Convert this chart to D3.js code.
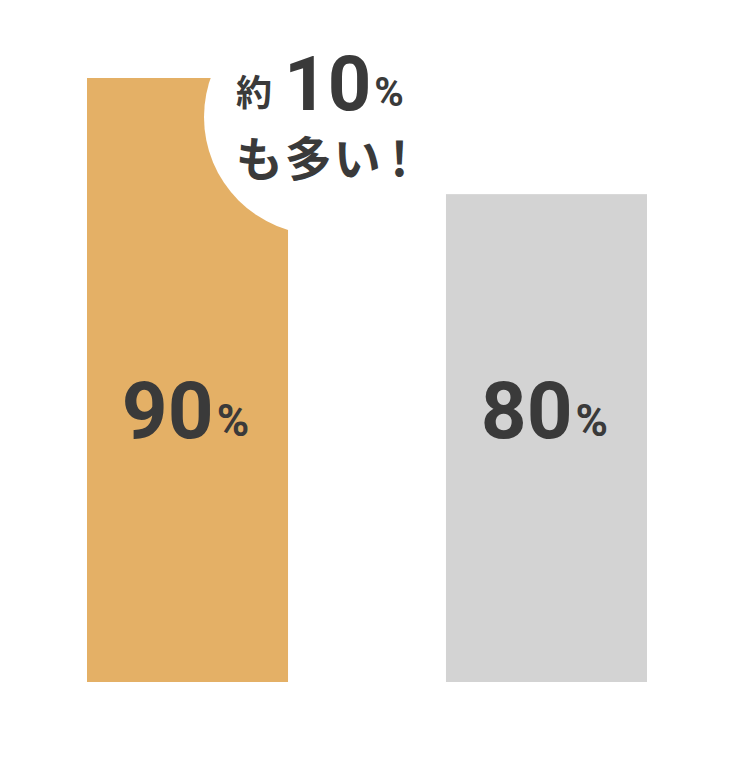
<!DOCTYPE html>
<html>
<head>
<meta charset="utf-8">
<script src="https://cdn.jsdelivr.net/npm/d3@7"></script>
<style>
  html, body { margin: 0; padding: 0; background: #fff; }
  svg { display: block; }
</style>
</head>
<body>
<svg width="739" height="762"></svg>
<script>
var categories = ["A", "B"];
var values = [90, 80];
var colors = ["#E4B066", "#D3D3D3"];
var calloutTop = ["約", "10", "%"];
var calloutBottom = ["も多い", "!"];

var svg = d3.select("svg");
var width = +svg.attr("width");
var height = +svg.attr("height");

var numFont = "Roboto, 'DejaVu Sans', sans-serif";
var jpFont = "'Noto Sans CJK JP', sans-serif";
var ink = "#3a3a3a";

var x = d3.scaleBand()
    .domain(categories)
    .range([87, 647])
    .paddingInner(0.44)
    .paddingOuter(0);

var y = d3.scaleLinear()
    .domain([38, 90])
    .range([682, 78]);

// bars
svg.append("g")
   .selectAll("rect")
   .data(values)
   .enter()
   .append("rect")
   .attr("x", function(d, i) { return x(categories[i]); })
   .attr("y", function(d) { return y(d); })
   .attr("width", x.bandwidth())
   .attr("height", function(d) { return y.range()[0] - y(d); })
   .attr("fill", function(d, i) { return colors[i]; });

// value labels
var labels = svg.append("g")
   .selectAll("text")
   .data(values)
   .enter()
   .append("text")
   .attr("x", function(d, i) { return x(categories[i]) + x.bandwidth() / 2 - 2; })
   .attr("y", 438)
   .attr("text-anchor", "middle")
   .attr("fill", ink)
   .attr("font-family", numFont)
   .attr("font-weight", "bold");
labels.append("tspan")
   .attr("font-size", 80)
   .text(function(d) { return d; });
labels.append("tspan")
   .attr("font-size", 44)
   .attr("dx", 3)
   .attr("dy", -2)
   .text("%");

// callout bubble
var cx = 322, cy = 117, r = 118;
svg.append("circle")
   .attr("cx", cx)
   .attr("cy", cy)
   .attr("r", r)
   .attr("fill", "#fff");

var topLine = svg.append("text")
   .attr("x", cx - 2)
   .attr("y", 110)
   .attr("text-anchor", "middle")
   .attr("fill", ink)
   .attr("font-weight", "bold");
topLine.append("tspan")
   .attr("font-family", jpFont)
   .attr("font-size", 36)
   .attr("dy", -4)
   .text(calloutTop[0]);
topLine.append("tspan")
   .attr("font-family", numFont)
   .attr("font-size", 76)
   .attr("dx", 12)
   .attr("dy", 4)
   .text(calloutTop[1]);
topLine.append("tspan")
   .attr("font-family", numFont)
   .attr("font-size", 40)
   .attr("dx", 3)
   .attr("dy", -4)
   .text(calloutTop[2]);

var bottomLine = svg.append("text")
   .attr("x", cx)
   .attr("y", 176)
   .attr("text-anchor", "middle")
   .attr("fill", ink)
   .attr("font-family", jpFont)
   .attr("font-weight", "bold")
   .attr("font-size", 47);
bottomLine.append("tspan")
   .attr("letter-spacing", 2)
   .text(calloutBottom[0]);
bottomLine.append("tspan")
   .attr("dx", 8)
   .text(calloutBottom[1]);
</script>
</body>
</html>
